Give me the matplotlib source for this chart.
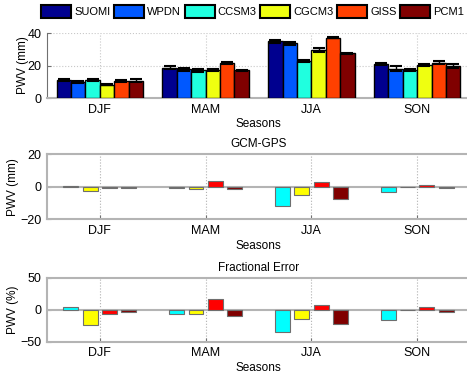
import matplotlib
matplotlib.use('Agg')
import matplotlib.pyplot as plt
import numpy as np

plt.rcParams['font.family'] = ['Liberation Sans', 'DejaVu Sans']
plt.rcParams['font.size'] = 8.5

seasons = ['DJF', 'MAM', 'JJA', 'SON']
names = ['SUOMI', 'WPDN', 'CCSM3', 'CGCM3', 'GISS', 'PCM1']

# PWV (mm) по сезонам
suomi = [11.0, 18.7, 34.8, 20.7]
wpdn = [9.9, 17.8, 33.6, 18.0]
ccsm3 = [11.2, 17.2, 23.0, 17.2]
cgcm3 = [8.3, 17.2, 29.6, 20.3]
giss = [10.4, 21.6, 37.1, 21.8]
pcm1 = [10.6, 17.0, 27.4, 19.7]
pwv = [suomi, wpdn, ccsm3, cgcm3, giss, pcm1]

err_suomi = [0.8, 0.7, 0.8, 0.6]
err_wpdn = [0.8, 0.9, 0.9, 1.6]
err_ccsm3 = [0.6, 0.9, 0.7, 0.8]
err_cgcm3 = [0.5, 0.5, 1.0, 0.8]
err_giss = [0.8, 0.5, 0.4, 0.7]
err_pcm1 = [0.8, 0.4, 0.5, 1.4]
errs = [err_suomi, err_wpdn, err_ccsm3, err_cgcm3, err_giss, err_pcm1]

# GCM - GPS (mm)
diff_ccsm3 = [0.4, -1.0, -11.6, -3.1]
diff_cgcm3 = [-2.3, -1.2, -4.9, -0.2]
diff_giss = [-0.5, 3.3, 2.9, 1.1]
diff_pcm1 = [-0.5, -1.4, -7.5, -0.8]
diffs = [diff_ccsm3, diff_cgcm3, diff_giss, diff_pcm1]

# Fractional error (%)
frac_ccsm3 = [3.7, -6.3, -34.2, -16.3]
frac_cgcm3 = [-23.7, -7.4, -15.3, -1.0]
frac_giss = [-6.3, 16.8, 7.9, 4.7]
frac_pcm1 = [-4.2, -9.5, -22.1, -4.2]
fracs = [frac_ccsm3, frac_cgcm3, frac_giss, frac_pcm1]

x = np.arange(1, 5)
colors6 = ['#00008f', '#0058ff', '#20ffdf', '#efff10', '#ff4000', '#800000']
colors4 = ['#00ffff', '#ffff00', '#ff0000', '#800000']
grey = '#b4b4b4'

fig = plt.figure(figsize=(4.67, 3.77), dpi=100)
ax1 = fig.add_axes([0.1006, 0.740, 0.906, 0.1724])
ax2 = fig.add_axes([0.1006, 0.4183, 0.906, 0.1724])
ax3 = fig.add_axes([0.1006, 0.0936, 0.906, 0.1698])

# верхний график
w = 0.136
handles = []
for i in range(6):
    pos = x + (i - 2.5) * w
    b = ax1.bar(pos, pwv[i], w, color=colors6[i], edgecolor='black', linewidth=1.0,
                yerr=errs[i], error_kw=dict(ecolor='black', elinewidth=1.0, capsize=4, capthick=1.5),
                label=names[i], zorder=3)
    handles.append(b)
ax1.set_ylim(0, 40)
ax1.set_yticks([0, 20, 40])
ax1.grid(True, linestyle=':', color='#c8c8c8', linewidth=0.8, zorder=0)
ax1.spines['top'].set_visible(False)
ax1.spines['right'].set_visible(False)
ax1.spines['bottom'].set_color(grey)
ax1.spines['bottom'].set_linewidth(1.5)
ax1.spines['left'].set_color('#707070')

leg = fig.legend(handles, names, loc='upper left', bbox_to_anchor=(0.078, 1.0), ncol=6, frameon=False,
                 handlelength=2.7, handleheight=1.4, handletextpad=0.25, columnspacing=0.35, fontsize=8,
                 borderaxespad=0.3, borderpad=0.15)
for p in leg.get_patches():
    p.set_linewidth(1.5)

# нижние графики
w2 = 0.14
sp = 0.183
for ax, data, ylim, lab, title in [(ax2, diffs, 20, 'PWV (mm)', 'GCM-GPS'),
                                   (ax3, fracs, 50, 'PWV (%)', 'Fractional Error')]:
    for i in range(4):
        pos = x + (i - 1.5) * sp
        ax.bar(pos, data[i], w2, color=colors4[i], edgecolor='#6e6e6e', linewidth=0.8, zorder=3)
    ax.axhline(0, color=grey, linewidth=1.5, zorder=2)
    ax.set_ylim(-ylim, ylim)
    ax.set_yticks([-ylim, 0, ylim])
    ax.xaxis.grid(True, linestyle=':', color='#b0b0b0', linewidth=0.8, zorder=0)
    for s in ['top', 'bottom', 'left']:
        ax.spines[s].set_color(grey)
        ax.spines[s].set_linewidth(1.5)
    ax.spines['right'].set_visible(False)
    ax.set_ylabel(lab, labelpad=1)
    ax.set_title(title, fontsize=8.5, pad=5)

for ax in [ax1, ax2, ax3]:
    ax.set_xlim(0.5, 4.5)
    ax.set_xticks(x)
    ax.set_xticklabels(seasons)
    ax.set_xlabel('Seasons', labelpad=2)
    ax.tick_params(direction='in', length=3, width=0.8, color='#707070', labelsize=9, pad=4)
ax1.set_ylabel('PWV (mm)', labelpad=-1)

fig.savefig('out.png', dpi=100)
